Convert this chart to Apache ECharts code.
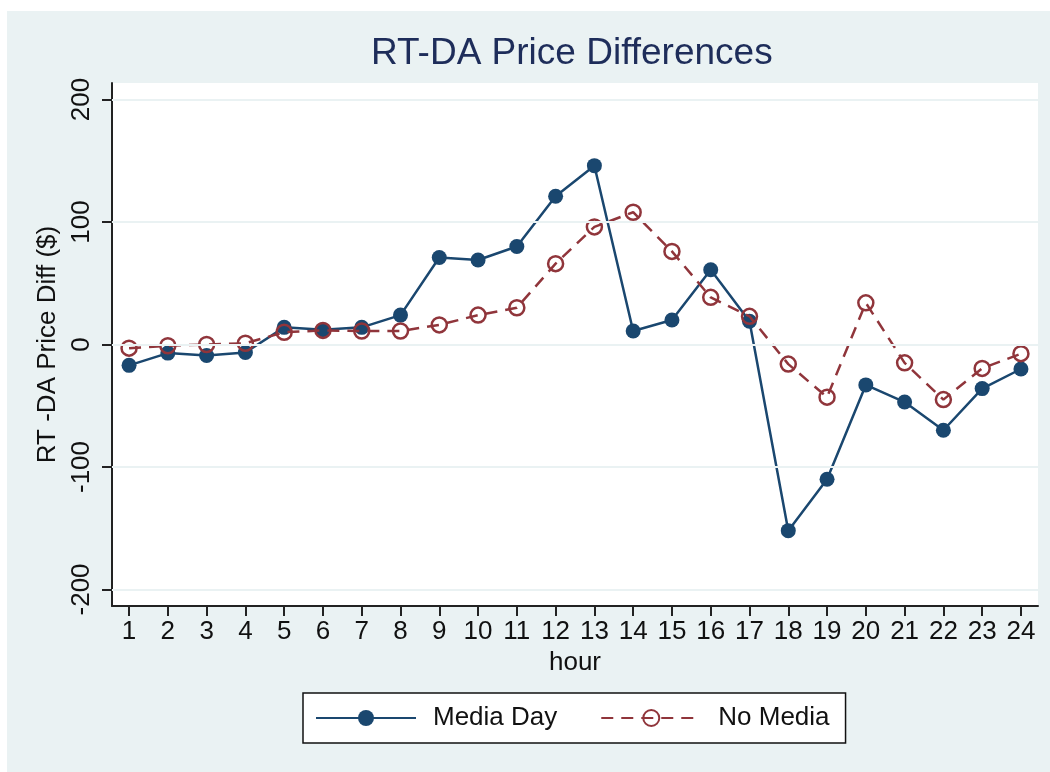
<!DOCTYPE html>
<html>
<head>
<meta charset="utf-8">
<script src="https://cdn.jsdelivr.net/npm/echarts@6/dist/echarts.min.js"></script>
<style>
  html, body { margin: 0; padding: 0; background: #fff; }
  #chart { width: 1050px; height: 772px; }
</style>
</head>
<body>
<div id="chart"></div>
<script>
// hours on the x axis
const hours = [1, 2, 3, 4, 5, 6, 7, 8, 9, 10, 11, 12, 13, 14, 15, 16, 17, 18, 19, 20, 21, 22, 23, 24];
// RT-DA price difference ($)
const mediaDay = [-17, -7, -9, -6.5, 14, 12, 14, 24, 71, 69, 80, 121, 146, 11, 20, 61, 19, -152, -110, -33, -47, -70, -36, -20];
const noMedia = [-3, -1, 0, 1, 10, 11.5, 11, 11, 16, 24, 30, 66, 96, 108, 76, 38.5, 23, -16, -43, 34, -15, -45, -19.5, -7.5];
const yTicks = [-200, -100, 0, 100, 200];

const navy = "#1a476f";
const maroon = "#90353b";
const panel = "#eaf2f3";

let myChart = echarts.init(document.getElementById("chart"));

myChart.setOption({
  animation: false,
  textStyle: { fontFamily: "Liberation Sans, Arial, sans-serif" },
  // light panel behind everything
  graphic: [
    {
      type: "rect",
      z: -10,
      shape: { x: 7, y: 11, width: 1043, height: 761 },
      style: { fill: panel },
    },
  ],
  title: {
    text: "RT-DA Price Differences",
    left: 371,
    top: 35,
    padding: 0,
    textStyle: { color: "#1e2d5a", fontSize: 37, fontWeight: "normal" },
  },
  grid: {
    left: 112,
    top: 83,
    right: 12,
    bottom: 166,
    show: true,
    backgroundColor: "#fff",
    borderWidth: 0,
  },
  xAxis: {
    type: "value",
    min: 0.56,
    max: 24.44,
    name: "hour",
    nameLocation: "middle",
    nameGap: 42,
    nameTextStyle: { color: "#111", fontSize: 26 },
    axisLine: { show: true, onZero: false, lineStyle: { color: "#222", width: 2 } },
    axisTick: { show: true, length: 10, customValues: hours, lineStyle: { color: "#222", width: 2 } },
    axisLabel: { customValues: hours, color: "#111", fontSize: 26, margin: 13 },
    splitLine: { show: false },
  },
  yAxis: {
    type: "value",
    min: -213.5,
    max: 213.5,
    name: "RT -DA Price Diff ($)",
    nameLocation: "middle",
    nameGap: 43,
    nameTextStyle: { color: "#111", fontSize: 26 },
    axisLine: { show: true, onZero: false, lineStyle: { color: "#222", width: 2 } },
    axisTick: { show: true, length: 10, customValues: yTicks, lineStyle: { color: "#222", width: 2 } },
    axisLabel: { customValues: yTicks, rotate: 90, color: "#111", fontSize: 26, margin: 17 },
    splitLine: { show: false },
  },
  legend: {
    left: 303,
    top: 693,
    padding: [12, 16, 12, 12],
    backgroundColor: "#fff",
    borderColor: "#111",
    borderWidth: 1.5,
    borderRadius: 0,
    itemWidth: 100,
    itemHeight: 20,
    itemGap: 43,
    textStyle: { color: "#111", fontSize: 26, padding: [0, 0, 0, 12] },
    data: ["Media Day", "No Media"],
  },
  series: [
    {
      // horizontal gridlines only
      type: "line",
      z: 1,
      silent: true,
      data: [],
      markLine: {
        silent: true,
        symbol: "none",
        label: { show: false },
        lineStyle: { color: panel, width: 2, type: "solid" },
        data: yTicks.map((v) => ({ yAxis: v })),
      },
    },
    {
      name: "Media Day",
      type: "line",
      z: 3,
      data: hours.map((h, i) => [h, mediaDay[i]]),
      symbol: "circle",
      symbolSize: 15,
      lineStyle: { color: navy, width: 2.5 },
      itemStyle: { color: navy },
    },
    {
      name: "No Media",
      type: "line",
      z: 4,
      data: hours.map((h, i) => [h, noMedia[i]]),
      symbol: "circle",
      symbolSize: 15,
      lineStyle: { color: maroon, width: 2.5, type: [12, 8] },
      itemStyle: { color: "rgba(255,255,255,0)", borderColor: maroon, borderWidth: 2.5 },
    },
  ],
});
</script>
</body>
</html>
